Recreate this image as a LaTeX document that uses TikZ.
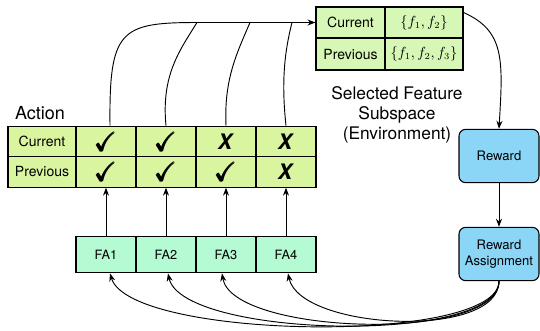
\documentclass[tikz,border=0pt]{standalone}
\usepackage{fontspec}
\setmainfont{TeX Gyre Heros}
\usepackage{amsmath}
\usepackage{amssymb}
\usepackage{tikz}
\usepackage{xcolor}
\usetikzlibrary{arrows.meta}

\definecolor{actgreen}{RGB}{218,245,160}
\definecolor{selgreen}{RGB}{214,247,181}
\definecolor{famint}{RGB}{180,250,210}
\definecolor{rwblue}{RGB}{139,214,247}

\newcommand{\chk}{\fontsize{20}{20}\selectfont$\pmb{\checkmark}$}
\newcommand{\crs}{\fontsize{16}{16}\selectfont\textbf{\textit{X}}}

\begin{document}
\begin{tikzpicture}[x=0.75pt,y=0.75pt,yscale=-1,xscale=1,
  cell/.style={draw, line width=0.8pt, fill=actgreen, minimum width=45pt, minimum height=23pt, inner sep=0pt, font=\fontsize{10.5}{12}\selectfont},
  selcell/.style={cell, fill=selgreen, font=\fontsize{10.5}{12}\selectfont},
  fabox/.style={draw, line width=0.8pt, fill=famint, minimum width=45pt, minimum height=27.5pt, inner sep=0pt, font=\fontsize{9.6}{11}\selectfont},
  rwbox/.style={draw, line width=0.8pt, fill=rwblue, rounded corners=5pt, minimum width=60pt, minimum height=40pt, inner sep=0pt, align=center, font=\fontsize{9.8}{11.5}\selectfont},
  arr/.style={line width=0.7pt, -{Stealth[length=6pt,width=4.5pt]}},
  con/.style={line width=0.7pt}]
\path[use as bounding box] (0,0) rectangle (540,330); %set diagram 540 x 330

%Action table
\node[cell, minimum width=51pt] (acur) at (42,141.5) {Current};
\node[cell, minimum width=51pt] (aprev) at (42,171.8) {Previous};
\node[cell] (ac1) at (106,141.5) {\chk};
\node[cell] (ac2) at (166,141.5) {\chk};
\node[cell] (ac3) at (226,141.5) {\crs};
\node[cell] (ac4) at (286,141.5) {\crs};
\node[cell] (ap1) at (106,171.8) {\chk};
\node[cell] (ap2) at (166,171.8) {\chk};
\node[cell] (ap3) at (226,171.8) {\chk};
\node[cell] (ap4) at (286,171.8) {\crs};

%Selected feature table
\node[selcell, minimum width=51.75pt, minimum height=23.25pt] (scur) at (350.5,22.5) {Current};
\node[selcell, minimum width=58.5pt, minimum height=23.25pt] (svc) at (424,22.5) {$\{f_1,f_2\}$};
\node[selcell, minimum width=51.75pt, minimum height=24pt] (sprev) at (350.5,54) {Previous};
\node[selcell, minimum width=58.5pt, minimum height=24pt] (svp) at (424,54) {$\{f_1,f_2,f_3\}$};

%FA boxes
\node[fabox] (fa1) at (106,254.5) {FA1};
\node[fabox] (fa2) at (166,254.5) {FA2};
\node[fabox] (fa3) at (226,254.5) {FA3};
\node[fabox] (fa4) at (286,254.5) {FA4};

%Reward boxes
\node[rwbox] (rw) at (499,156) {Reward};
\node[rwbox] (ra) at (499,254) {Reward\\Assignment};

% Text Node
\node[font=\fontsize{13.5}{15}\selectfont] (act) at (40,113) {Action};
% Text Node
\node[align=center, font=\fontsize{13}{15}\selectfont] (env) at (397,115) {Selected Feature\\Subspace\\(Environment)};

%Joints on the top line
\coordinate (j2) at (197,22.5);
\coordinate (j3) at (250,22.5);
\coordinate (j4) at (292,22.5);

%Curve Lines
\draw[arr] ([xshift=3pt]ac1.north) .. controls (109,30) and (120,22.5) .. (j2) -- (scur.west);
\draw[con] (ac2.north) .. controls (161,75) and (180,50) .. (j2);
\draw[con] (ac3.north) .. controls (224,80) and (236,55) .. (j3);
\draw[con] (ac4.north) .. controls (281,80) and (285,50) .. (j4);
\draw[arr] ([yshift=-7.5pt]svc.east) .. controls (505,31) and (503,60) .. (rw.north);

%Straight Lines
\draw[arr] (rw.south) -- (ra.north);
\draw[arr] (fa1.north) -- (ap1.south);
\draw[arr] (fa2.north) -- (ap2.south);
\draw[arr] (fa3.north) -- (ap3.south);
\draw[arr] (fa4.north) -- (ap4.south);

%Curve Lines
\draw[arr] (ra.south) .. controls (499,345) and (130,340) .. ([xshift=3pt]fa1.south);
\draw[arr] (ra.south) .. controls (499,345) and (182,338) .. ([xshift=1.5pt]fa2.south);
\draw[arr] (ra.south) .. controls (499,343) and (232,335) .. ([xshift=-3pt]fa3.south);
\draw[arr] (ra.south) .. controls (499,340) and (300,330) .. ([xshift=1.5pt]fa4.south);

\end{tikzpicture}
\end{document}
